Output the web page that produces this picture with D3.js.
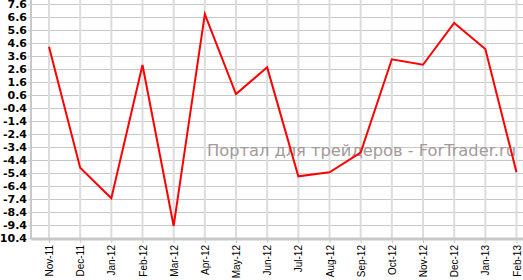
<!DOCTYPE html>
<html>
<head>
<meta charset="utf-8">
<script src="https://cdn.jsdelivr.net/npm/d3@7"></script>
<style>
	body { margin: 0; background: #fff; }
	svg { display: block; }
</style>
</head>
<body>
<svg width="523" height="280"></svg>
<script>
var months = ['Nov-11', 'Dec-11', 'Jan-12', 'Feb-12', 'Mar-12', 'Apr-12', 'May-12', 'Jun-12',
	'Jul-12', 'Aug-12', 'Sep-12', 'Oct-12', 'Nov-12', 'Dec-12', 'Jan-13', 'Feb-13'];

var values = [4.34, -4.97, -7.32, 2.93, -9.45, 6.85, 0.7, 2.75,
	-5.63, -5.32, -3.8, 3.37, 2.95, 6.16, 4.16, -5.32];

var yTicks = [7.6, 6.6, 5.6, 4.6, 3.6, 2.6, 1.6, 0.6, -0.4, -1.4, -2.4, -3.4,
	-4.4, -5.4, -6.4, -7.4, -8.4, -9.4, -10.4];

var watermark = 'Портал для трейдеров - ForTrader.ru';

var svg = d3.select('svg');
var width = 523;

var left = 31;
var bottom = 239;

var xScale = d3.scalePoint().domain(months).range([49, 516.5]);
var yScale = d3.scaleLinear().domain([-10.4, 7.6]).range([238.3, 4.3]);

// horizontal grid
svg.append('g')
	.selectAll('line')
	.data(yTicks)
	.enter()
	.append('line')
	.attr('x1', left)
	.attr('x2', width)
	.attr('y1', function (d) { return Math.round(yScale(d)) + 0.5; })
	.attr('y2', function (d) { return Math.round(yScale(d)) + 0.5; })
	.attr('stroke', '#c8c8c8')
	.attr('stroke-width', 1);

// vertical grid
svg.append('g')
	.selectAll('line')
	.data(months)
	.enter()
	.append('line')
	.attr('x1', function (d) { return xScale(d); })
	.attr('x2', function (d) { return xScale(d); })
	.attr('y1', 0)
	.attr('y2', bottom)
	.attr('stroke', '#dcdcdc')
	.attr('stroke-width', 2);

// y axis
var yAxis = d3.axisLeft(yScale)
	.tickValues(yTicks)
	.tickSize(3)
	.tickPadding(1)
	.tickFormat(function (d) { return d.toFixed(1); });

var gy = svg.append('g')
	.attr('transform', 'translate(' + left + ',0)')
	.call(yAxis);

gy.select('.domain').attr('stroke', '#c8c8c8').attr('stroke-width', 2).attr('d', 'M0,0V' + bottom);
gy.selectAll('.tick line').attr('stroke', '#c8c8c8');
gy.selectAll('.tick text')
	.attr('fill', '#000')
	.style('font-family', 'DejaVu Sans, Verdana, sans-serif')
	.style('font-size', '11px')
	.style('font-weight', 'bold');

// x axis
var xAxis = d3.axisBottom(xScale).tickSize(4).tickPadding(4);

var gx = svg.append('g')
	.attr('transform', 'translate(0,' + bottom + ')')
	.call(xAxis);

gx.select('.domain').attr('stroke', '#c8c8c8').attr('stroke-width', 3).attr('d', 'M' + left + ',0H' + width);
gx.selectAll('.tick line').attr('stroke', '#c8c8c8');
gx.selectAll('.tick text')
	.attr('fill', '#000')
	.attr('transform', 'rotate(-90)')
	.attr('x', -6)
	.attr('y', 0)
	.attr('dy', '0.35em')
	.style('text-anchor', 'end')
	.style('font-family', 'Liberation Sans, Arial, sans-serif')
	.style('font-size', '10px');

// watermark
svg.append('text')
	.attr('x', 207)
	.attr('y', 156)
	.attr('textLength', 309)
	.attr('lengthAdjust', 'spacingAndGlyphs')
	.style('font-family', 'DejaVu Sans, Verdana, sans-serif')
	.style('font-size', '16px')
	.attr('fill', '#a39a9a')
	.text(watermark);

// series line
var line = d3.line()
	.x(function (d, i) { return xScale(months[i]); })
	.y(function (d) { return yScale(d); });

svg.append('path')
	.datum(values)
	.attr('d', line)
	.attr('fill', 'none')
	.attr('stroke', '#ff0000')
	.attr('stroke-width', 2);
</script>
</body>
</html>
